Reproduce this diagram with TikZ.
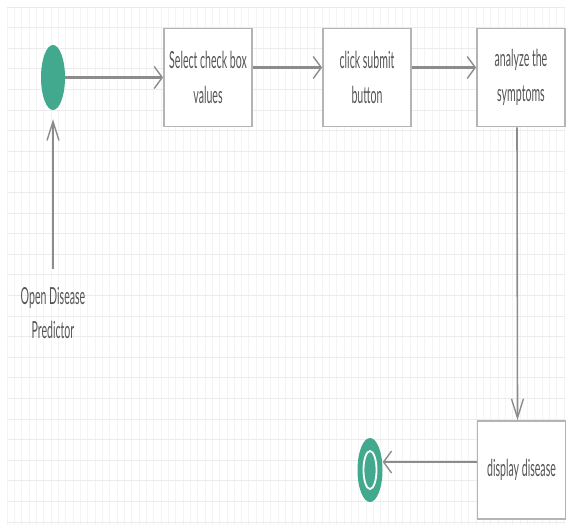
\documentclass[tikz,border=0pt]{standalone}
\usepackage{fontspec}
\setmainfont{Lato}[FakeStretch=0.45]
\usetikzlibrary{arrows.meta,shapes.geometric}
\definecolor{teal}{HTML}{42A98F}
\definecolor{edge}{HTML}{8C8C8C}
\definecolor{boxline}{HTML}{B4B4B4}
\definecolor{txt}{HTML}{555555}
\definecolor{gridv}{HTML}{F4F4F4}
\definecolor{gridh}{HTML}{EBEBEB}
\tikzset{
  actbox/.style={draw=boxline, line width=1.8pt, fill=white, minimum width=88pt,
    minimum height=98pt, align=center, text=txt, font=\fontsize{23.5}{35}\selectfont,
    inner sep=0pt},
  textlabel/.style={align=center, text=txt, font=\fontsize{23.5}{34}\selectfont, inner sep=0pt},
  hflow/.style={draw=edge, line width=2.6pt, -{Straight Barb[length=8pt,width=22pt,line width=1.4pt]}},
  vflow/.style={draw=edge, line width=1.6pt, -{Straight Barb[length=19pt,width=12pt,line width=1.4pt]}},
  startdot/.style={ellipse, fill=teal, minimum width=24pt, minimum height=65pt, inner sep=0pt},
}
\begin{document}
\begin{tikzpicture}[x=1pt, y=-1pt]
\useasboundingbox (0,0) rectangle (569,531);
% background grid
\foreach \gx in {0,...,76} {
  \draw[gridv, line width=0.8pt] ({7+7.33*\gx},7) -- ({7+7.33*\gx},525);
}
\foreach \gy in {0,...,25} {
  \draw[gridh, line width=1pt] (7,{7+20.6*\gy}) -- (565,{7+20.6*\gy});
}

% activity nodes
\node[startdot] (start) at (53,77.5) {};
\node[actbox] (b1) at (208,77.5) {Select check box\\values};
\node[actbox] (b2) at (367,77.5) {click submit\\button};
\node[actbox] (b3) at (521,77.5) {analyze the\\symptoms};
\node[actbox] (b4) at (521.5,470) {display disease};
\node[textlabel] (open) at (53,313) {Open Disease\\Predictor};

% final node
\node[ellipse, fill=teal, minimum width=25pt, minimum height=64pt, inner sep=0pt] (end) at (370,470) {};
\node[ellipse, draw=white, line width=1.8pt, fill=teal, minimum width=13pt, minimum height=38pt, inner sep=0pt] (endcore) at (end.center) {};

% control flow
\draw[hflow] (start) -- (b1);
\draw[hflow] ([yshift=10pt]b1.east) -- ([yshift=10pt]b2.west);
\draw[hflow] ([yshift=10pt]b2.east) -- ([yshift=10pt]b3.west);
\draw[vflow] ([xshift=-4pt]b3.south) -- ([xshift=-4pt]b4.north);
\draw[hflow] ([yshift=8pt]b4.west) -- ([yshift=8pt]end.east);
\draw[vflow, shorten <=18pt, shorten >=9pt] (open.north) -- (start.south);
\end{tikzpicture}
\end{document}
